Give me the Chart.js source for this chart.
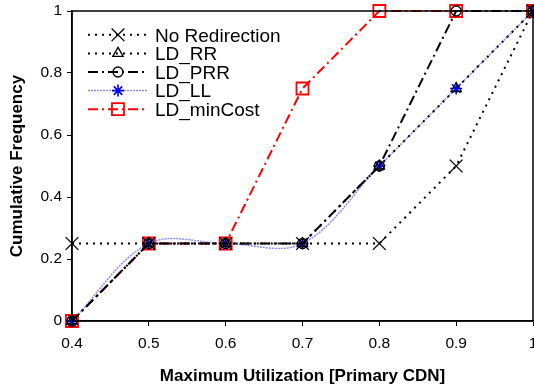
<!DOCTYPE html>
<html>
<head>
<meta charset="utf-8">
<script src="https://cdn.jsdelivr.net/npm/chart.js@4/dist/chart.umd.min.js"></script>
<style>
html,body{margin:0;padding:0;background:#fff;}
#wrap{width:534px;height:392px;}
</style>
</head>
<body>
<div id="wrap"><canvas id="c" width="534" height="392"></canvas></div>
<script>
const xValues = [0.4, 0.5, 0.6, 0.7, 0.8, 0.9, 1.0];
const noRedirection = [0.25, 0.25, 0.25, 0.25, 0.25, 0.5, 1];
const ldRR = [0, 0.25, 0.25, 0.25, 0.5, 0.75, 1];
const ldPRR = [0, 0.25, 0.25, 0.25, 0.5, 1, 1];
const ldLL = [0, 0.25, 0.25, 0.25, 0.5, 0.75, 1];
const ldMinCost = [0, 0.25, 0.25, 0.75, 1, 1, 1];
const seriesNames = ['No Redirection', 'LD_RR', 'LD_PRR', 'LD_LL', 'LD_minCost'];
const xTickLabels = ['0.4', '0.5', '0.6', '0.7', '0.8', '0.9', '1'];
const yTickLabels = ['0', '0.2', '0.4', '0.6', '0.8', '1'];

const FONT = "'Liberation Sans', Arial, sans-serif";
const pts = arr => arr.map((v, i) => ({x: xValues[i], y: v}));

function ds(label, data, o) {
  return Object.assign({
    label, data: pts(data), showLine: true, clip: false, tension: 0,
    backgroundColor: 'rgba(0,0,0,0)', pointBackgroundColor: 'rgba(0,0,0,0)',
    pointHoverRadius: 0
  }, o);
}

const datasets = [
  ds(seriesNames[0], noRedirection, {borderColor: '#000', borderWidth: 2, borderDash: [2, 5],
    pointStyle: 'crossRot', pointRadius: 9, pointBorderColor: '#000', pointBorderWidth: 1.3}),
  ds(seriesNames[1], ldRR, {borderColor: '#000', borderWidth: 2, borderDash: [2, 5],
    pointStyle: 'triangle', pointRadius: 6, pointBorderColor: '#000', pointBorderWidth: 1.3}),
  ds(seriesNames[2], ldPRR, {borderColor: '#000', borderWidth: 2, borderDash: [10, 4, 2, 4],
    pointStyle: 'circle', pointRadius: 5, pointBorderColor: '#000', pointBorderWidth: 1.3}),
  ds(seriesNames[3], ldLL, {borderColor: '#8a8aff', borderWidth: 1.5, borderDash: [2, 1], tension: 0.35,
    pointStyle: 'star', pointRadius: 6, pointBorderColor: '#0000ff', pointBorderWidth: 1.6}),
  ds(seriesNames[4], ldMinCost, {borderColor: '#ff0000', borderWidth: 2, borderDash: [10, 4, 2, 4],
    pointStyle: 'rect', pointRadius: 8.5, pointBorderColor: '#ff0000', pointBorderWidth: 1.8})
];

const PLOT_RIGHT = 533;
const stretch = {
  id: 'stretch',
  afterLayout(chart) {
    const x = chart.scales.x;
    x.right = PLOT_RIGHT;
    x.width = PLOT_RIGHT - x.left;
    x.configure();
    const a = chart.chartArea;
    a.right = PLOT_RIGHT;
    a.width = PLOT_RIGHT - a.left;
  }
};

const frame = {
  id: 'frame',
  afterDatasetsDraw(chart) {
    const a = chart.chartArea, ctx = chart.ctx;
    ctx.save();
    ctx.strokeStyle = '#000';
    ctx.lineWidth = 1.5;
    ctx.strokeRect(a.left, a.top, a.right - a.left, a.bottom - a.top);
    ctx.restore();
  }
};

const legendPlugin = {
  id: 'customLegend',
  afterDraw(chart) {
    const ctx = chart.ctx;
    const x0 = 88, x1 = 148, xm = 118, xt = 155;
    const base0 = 41.5, step = 18.6;
    chart.data.datasets.forEach((d, i) => {
      const base = base0 + i * step;
      const ly = base - 6.7;
      ctx.save();
      ctx.strokeStyle = d.borderColor;
      ctx.lineWidth = d.borderWidth;
      ctx.setLineDash(d.borderDash || []);
      ctx.beginPath();
      ctx.moveTo(x0, ly);
      ctx.lineTo(x1, ly);
      ctx.stroke();
      ctx.restore();
      ctx.save();
      ctx.strokeStyle = d.pointBorderColor;
      ctx.fillStyle = 'rgba(0,0,0,0)';
      ctx.lineWidth = d.pointBorderWidth;
      ctx.setLineDash([]);
      Chart.helpers.drawPoint(ctx, {
        pointStyle: d.pointStyle, radius: d.pointRadius, rotation: 0,
        borderWidth: d.pointBorderWidth
      }, xm, ly);
      ctx.restore();
      ctx.save();
      ctx.fillStyle = '#000';
      ctx.font = '19px ' + FONT;
      ctx.textBaseline = 'alphabetic';
      ctx.textAlign = 'left';
      ctx.fillText(d.label, xt, base);
      ctx.restore();
    });
  }
};

new Chart(document.getElementById('c'), {
  type: 'scatter',
  data: {datasets},
  options: {
    responsive: false,
    animation: false,
    events: [],
    layout: {padding: {top: 11, right: 1, left: 0, bottom: 0}},
    plugins: {legend: {display: false}, tooltip: {enabled: false}},
    scales: {
      x: {
        type: 'linear', min: 0.4, max: 1.0,
        afterFit(s) { s.height = 71; },
        afterBuildTicks(s) { s.ticks = xValues.map(v => ({value: v})); },
        ticks: {
          callback: (v, i) => xTickLabels[i],
          color: '#000', font: {family: FONT, size: 15.5}, padding: 8, maxRotation: 0, autoSkip: false
        },
        grid: {drawOnChartArea: false, drawTicks: true, tickLength: 5, color: '#000', lineWidth: 1},
        border: {display: true, color: '#000', width: 1.5},
        title: {display: true, text: 'Maximum Utilization [Primary CDN]', color: '#000',
          font: {family: FONT, size: 17, weight: 'bold'}, padding: {top: 0, bottom: 5}}
      },
      y: {
        type: 'linear', min: 0, max: 1,
        afterFit(s) { s.width = 72; s.paddingTop = 0; s.paddingBottom = 0; },
        afterBuildTicks(s) { s.ticks = [0, 0.2, 0.4, 0.6, 0.8, 1].map(v => ({value: v})); },
        ticks: {
          callback: (v, i) => yTickLabels[i],
          color: '#000', font: {family: FONT, size: 15.5}, padding: 5
        },
        grid: {drawOnChartArea: false, drawTicks: true, tickLength: 5, color: '#000', lineWidth: 1},
        border: {display: true, color: '#000', width: 1.5},
        title: {display: true, text: 'Cumulative Frequency', color: '#000',
          font: {family: FONT, size: 17, weight: 'bold'}, padding: {top: 7, bottom: 0}}
      }
    }
  },
  plugins: [stretch, frame, legendPlugin]
});
</script>
</body>
</html>
